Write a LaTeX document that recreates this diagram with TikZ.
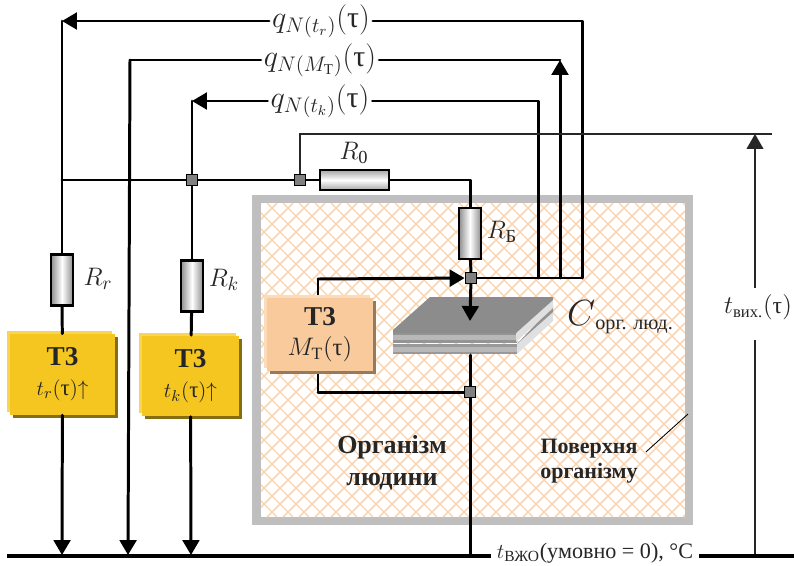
\documentclass[tikz,border=0pt]{standalone}
\usepackage{amsmath,amssymb}
\usepackage{fontspec}
\setmainfont{Liberation Serif}
\usepackage{tikz}
\usetikzlibrary{arrows.meta}

\definecolor{framegray}{HTML}{BFBFBF}
\definecolor{hatchorange}{HTML}{FAD3AC}
\definecolor{heatyellow}{HTML}{F5C61F}
\definecolor{heatorange}{HTML}{F9CB9C}
\newcommand{\tauup}{\text{τ}}

\tikzset{
  wire/.style={line width=1.7pt,line cap=round,line join=round},
  thinwire/.style={line width=1pt,black!85},
  tip/.style={-{Triangle[length=8.5pt,width=9.5pt]}},
  junction/.style={draw,fill=black!50,line width=1pt,minimum size=0.22cm,inner sep=0pt},
  resv/.style={draw,line width=1.2pt,minimum width=0.45cm,minimum height=1.02cm,inner sep=0pt,
    left color=black!45,right color=black!45,middle color=white},
  resh/.style={draw,line width=1.2pt,minimum width=1.38cm,minimum height=0.40cm,inner sep=0pt,
    top color=black!35,bottom color=black!35,middle color=white},
  heatbox/.style={minimum width=2.1cm,minimum height=1.62cm,align=center,inner sep=0pt,
    font=\fontsize{13}{17}\selectfont,text=black!85},
  qlabel/.style={text height=13pt,text depth=5.8pt,inner sep=1.5pt,font=\fontsize{17}{20}\selectfont,text=black!85},
  rlabel/.style={font=\fontsize{15}{17}\selectfont,text=black!85},
  boldlabel/.style={align=center,font=\bfseries\fontsize{14.8}{18}\selectfont,text=black!85},
}
\newcommand{\heathead}{\textbf{\fontsize{15.5}{17}\selectfont Т3}}

\begin{document}
\begin{tikzpicture}[x=0.02cm,y=-0.02cm]
  \useasboundingbox (0,0) rectangle (794,565);

  % body of the organism
  \fill[framegray] (252,195) rectangle (693,525);
  \fill[white] (261,203) rectangle (685,517);
  \begin{scope}
    \clip (261,203) rectangle (685,517);
    \foreach \i in {0,16,...,768} {
      \draw[hatchorange,line width=0.8pt] (\i+261-314,203) -- (\i+261,517);
      \draw[hatchorange,line width=0.8pt] (\i+261-314,517) -- (\i+261,203);
    }
  \end{scope}

  % heat flow labels
  \node[qlabel] (qr) at (321,21) {$q_{N(t_r)}(\tauup)$};
  \node[qlabel] (qm) at (320,60) {$q_{N(M_{\text{Т}})}(\tauup)$};
  \node[qlabel] (qk) at (320,101) {$q_{N(t_k)}(\tauup)$};

  % resistors
  \node[resv] (rr) at (62,280) {};
  \node[resv] (rk) at (192,286) {};
  \node[resv] (rb) at (470,233.5) {};
  \node[resh] (r0) at (354.5,180) {};

  % junctions and free ends
  \node[junction] (jk) at (192,180) {};
  \node[junction] (j0) at (300,180) {};
  \node[junction] (jb) at (471,278) {};
  \node[junction] (jm) at (470,392) {};
  \coordinate (cr) at (62,21);
  \coordinate (cm) at (130,60);
  \coordinate (ck) at (192,101);
  \coordinate (jl) at (62,180);
  \coordinate (er) at (582,278);
  \coordinate (em) at (560,278);
  \coordinate (tm) at (560,60);
  \coordinate (ek) at (538,278);
  \coordinate (topend) at (772,134);
  \coordinate (dimtop) at (755,134);
  \coordinate (gr) at (62,555);
  \coordinate (gm) at (128,555);
  \coordinate (gk) at (191,555);
  \coordinate (gb) at (470,555);
  \coordinate (gd) at (755,555);
  \coordinate (gl) at (7,556);
  \coordinate (gre) at (794,556);
  \coordinate (plate) at (470,321);
  \coordinate (plateb) at (470,355);

  % heat capacity plates
  \fill[black!40] (393,344) -- (517,344) -- (517,354) -- (393,354) -- cycle;
  \fill[black!28] (393,347) -- (517,347) -- (517,352) -- (393,352) -- cycle;
  \fill[black!12] (517,344) -- (553,312) -- (553,321) -- (517,354) -- cycle;
  \fill[black!42] (517,344) -- (553,306) -- (553,312) -- cycle;
  \fill[black!42] (393,330) -- (517,330) -- (517,343) -- (393,343) -- cycle;
  \fill[black!28] (393,335) -- (517,335) -- (517,340) -- (393,340) -- cycle;
  \fill[black!12] (516,333) -- (553,300) -- (553,308) -- (516,342) -- cycle;
  \fill[black!45] (393,330) -- (430,297) -- (553,297) -- (553,300) -- (516,333) -- (393,333) -- cycle;

  % heat sources
  \fill[heatyellow!75!white] (7,331) rectangle (112,412);
  \fill[heatyellow!55!black] (13,337) rectangle (118,418);
  \node[heatbox,fill=heatyellow] (tzr) at (62.5,374.5) {\heathead\\$t_r(\tauup){\uparrow}$};
  \fill[heatyellow!75!white] (139,333) rectangle (236,413);
  \fill[heatyellow!55!black] (145,339) rectangle (242,419);
  \node[heatbox,fill=heatyellow,minimum width=1.94cm] (tzk) at (190.5,376) {\heathead\\$t_k(\tauup){\uparrow}$};

  % connectors
  \draw[wire,tip] (qr) -- (cr);
  \draw[wire] (cr) -- (rr);
  \draw[wire] (rr) -- (tzr);
  \draw[wire,tip] (tzr) -- (gr);
  \draw[wire] (qm) -- (cm);
  \draw[wire,tip] (cm) -- (gm);
  \draw[wire,tip] (qk) -- (ck);
  \draw[wire] (ck) -- (jk);
  \draw[wire] (jk) -- (rk);
  \draw[wire] (rk) -- (tzk);
  \draw[wire,tip] (tzk) -- (gk);
  \draw[wire] (jl) -- (jk);
  \draw[wire] (jk) -- (j0);
  \draw[wire] (j0) -- (r0);
  \draw[wire] (r0) -| (rb);
  \draw[wire] (rb) -- (jb);
  \draw[wire,tip] (jb) -- (plate);
  \draw[wire] (plateb) -- (gb);
  \draw[wire] (jb) -- (er);
  \draw[wire] (qr) -| (er);
  \draw[wire] (qm) -- (tm);
  \draw[wire,tip] (em) -- (tm);
  \draw[wire] (qk) -| (ek);
  \draw[thinwire] (j0) |- (topend);

  % metabolic source
  \coordinate (ml) at (318,279);
  \coordinate (mb) at (318,392);
  \draw[wire,tip] (ml) -- (jb);
  \draw[wire] (mb) -- (ml);
  \draw[wire] (mb) -- (jm);
  \fill[heatorange!70!white] (264,295) rectangle (370,368);
  \fill[heatorange!60!black] (270,301) rectangle (376,374);
  \node[heatbox,fill=heatorange,minimum width=2.12cm,minimum height=1.46cm,font=\fontsize{14}{17}\selectfont] (tzm) at (320,334.5) {\heathead\\$M_{\text{Т}}(\tauup)$};

  % redraw junctions over the wires
  \node[junction] at (jk) {};
  \node[junction] at (j0) {};
  \node[junction] at (jb) {};
  \node[junction] at (jm) {};

  % labels
  \node[rlabel] (lr0) at (354,153) {$R_{\text{0}}$};
  \node[rlabel] (lrb) at (502,232) {$R_{\text{Б}}$};
  \node[rlabel] (lrr) at (98,279) {$R_r$};
  \node[rlabel] (lrk) at (224,280) {$R_k$};
  \node[text=black!85] (lc) at (620,317) {\fontsize{21}{23}\selectfont$C$\fontsize{11.5}{14}\selectfont\raisebox{-2pt}{орг. люд.}};
  \node[boldlabel] (org) at (392,463) {Організм\\людини};
  \node[boldlabel,font=\bfseries\fontsize{12.5}{14.5}\selectfont] (surf) at (589,461) {Поверхня\\організму};
  \coordinate (surfpt) at (688,414);
  \draw[black,line width=0.5pt] (surf.east) ++(2,-9) -- (surfpt);

  % output temperature
  \node[rlabel,font=\fontsize{13.5}{16}\selectfont] (tout) at (758,307) {$t_{\text{вих.}}(\tauup)$};
  \draw[thinwire,tip] (tout.north -| dimtop) -- (dimtop);
  \draw[thinwire] (tout.south -| dimtop) ++(0,14) -- (gd);

  % ground rail
  \node[qlabel,font=\fontsize{12.6}{16}\selectfont,text height=10pt,text depth=3pt,inner sep=3pt] (tg) at (595,552) {$t_{\text{ВЖО}}$(умовно = 0), °C};
  \draw[line width=2.2pt] (gl) -- (tg.west |- gl);
  \draw[line width=2.2pt] (tg.east |- gre) -- (gre);
\end{tikzpicture}
\end{document}
